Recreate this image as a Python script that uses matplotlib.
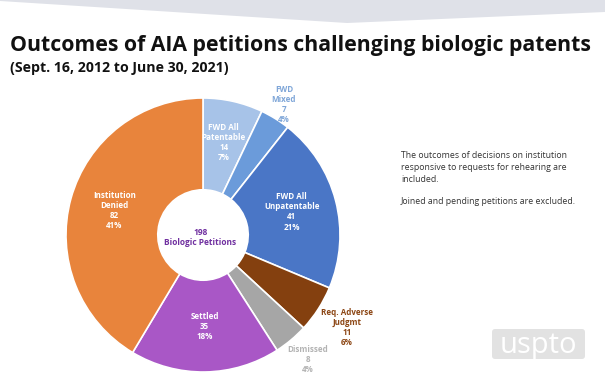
import numpy as np
import matplotlib
matplotlib.use("Agg")
import matplotlib.pyplot as plt
from matplotlib.patches import Polygon, FancyBboxPatch

# ── data (clockwise from 12 o'clock) ──
categories = ["FWD All\nPatentable", "FWD\nMixed", "FWD All\nUnpatentable",
              "Req. Adverse\nJudgmt", "Dismissed", "Settled", "Institution\nDenied"]
counts = [14, 7, 41, 11, 8, 35, 82]
percents = ["7%", "4%", "21%", "6%", "4%", "18%", "41%"]
colors = ["#A7C3E8", "#6B9BDA", "#4A76C6", "#84400F", "#A6A6A6", "#A957C6", "#E8843C"]
label_colors = ["white", "#7FA6D8", "white", "#8B4513", "#B3B3B3", "white", "white"]
label_dist = [0.69, 1.12, 0.67, 1.25, 1.19, 0.67, 0.67]
total_label = "198\nBiologic Petitions"

W, H = 605, 377
fig = plt.figure(figsize=(W / 100, H / 100), dpi=100)
fig.patch.set_facecolor("white")

# background swoosh at the top + logo box
bg = fig.add_axes([0, 0, 1, 1])
bg.set_xlim(0, W)
bg.set_ylim(H, 0)
bg.axis("off")
bg.add_patch(Polygon([(0, 0), (0, 1), (347, 23), (605, 12), (605, 0)],
                     closed=True, facecolor="#DFE1E8", edgecolor="none"))
bg.add_patch(FancyBboxPatch((492, 329), 93, 30, boxstyle="round,pad=0,rounding_size=3",
                            facecolor="#E2E2E2", edgecolor="none"))
bg.text(538, 345, "uspto", color="white", fontsize=21, ha="center", va="center",
        family="Open Sans")

title = fig.text(10 / W, 1 - 45 / H, "Outcomes of AIA petitions challenging biologic patents",
                 fontsize=16, fontweight="bold", family="Open Sans", color="#111111",
                 ha="left", va="center")
sub = fig.text(10 / W, 1 - 68 / H, "(Sept. 16, 2012 to June 30, 2021)",
               fontsize=10, fontweight="bold", family="Open Sans", color="#111111",
               ha="left", va="center")

# shrink title/subtitle to the widths seen in the slide
renderer = fig.canvas.get_renderer()
for t, target in [(title, 580), (sub, 218)]:
    w = t.get_window_extent(renderer).width
    t.set_fontsize(t.get_fontsize() * target / w)

note = "The outcomes of decisions on institution\nresponsive to requests for rehearing are\nincluded."
fig.text(401 / W, 1 - 151 / H, note, fontsize=6.3, family="Open Sans", color="#333333",
         ha="left", va="top", linespacing=1.4)
fig.text(401 / W, 1 - 197 / H, "Joined and pending petitions are excluded.",
         fontsize=6.3, family="Open Sans", color="#333333", ha="left", va="top")

# ── donut ──
cx, cy, R = 203, 235, 137
ax = fig.add_axes([(cx - R) / W, (H - cy - R) / H, 2 * R / W, 2 * R / H])
wedges, _ = ax.pie(counts, colors=colors, startangle=90, counterclock=False,
                   radius=1.0, wedgeprops=dict(width=0.67, edgecolor="white", linewidth=1.2))
ax.set_xlim(-1, 1)
ax.set_ylim(-1, 1)
ax.set_aspect("equal")
ax.axis("off")

for w, cat, n, p, c, d in zip(wedges, categories, counts, percents, label_colors, label_dist):
    ang = np.deg2rad((w.theta1 + w.theta2) / 2)
    ax.text(d * np.cos(ang), d * np.sin(ang), f"{cat}\n{n}\n{p}", color=c,
            fontsize=5.8, fontweight="bold", family="Open Sans",
            ha="center", va="center", linespacing=1.15, clip_on=False)

ax.text(-0.02, -0.02, total_label, color="#7030A0", fontsize=6, fontweight="bold",
        family="Open Sans", ha="center", va="center", linespacing=1.2)

fig.savefig("out.png", dpi=100, facecolor="white")
